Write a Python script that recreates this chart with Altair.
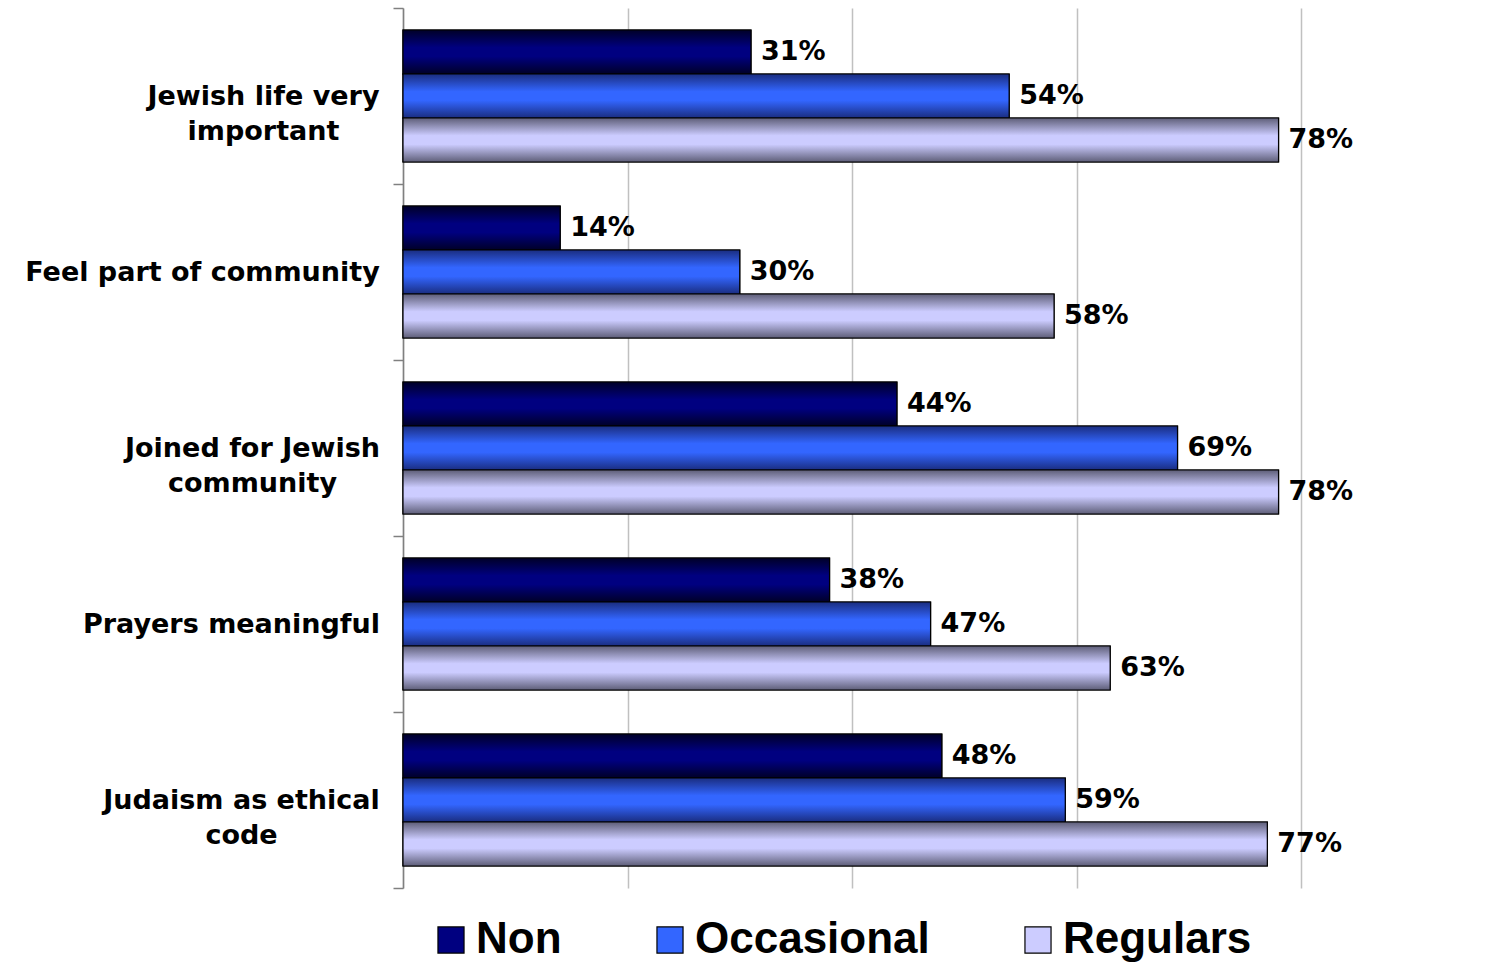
import altair as alt
import pandas as pd

categories = ["Jewish life very important", "Feel part of community",
              "Joined for Jewish community", "Prayers meaningful",
              "Judaism as ethical code"]
label_lines = [["Jewish life very", "important"], ["Feel part of community"],
               ["Joined for Jewish", "community"], ["Prayers meaningful"],
               ["Judaism as ethical", "code"]]
# distance from tick end to the centre of each (centred) label block
label_pads = [130, 191, 141, 162, 152]
series = ["Non", "Occasional", "Regulars"]
non_vals = [31, 14, 44, 38, 48]
occ_vals = [54, 30, 69, 47, 59]
reg_vals = [78, 58, 78, 63, 77]

rows = []
for i, c in enumerate(categories):
    for s, vals in zip(series, [non_vals, occ_vals, reg_vals]):
        rows.append({"category": c, "series": s, "value": vals[i], "label": f"{vals[i]}%"})
df = pd.DataFrame(rows)

colors = ["#000080", "#3366ff", "#ccccff"]
edges = ["#000028", "#1a2d80", "#5e5e78"]

label_expr = ""
for c, lines in zip(categories, label_lines):
    arr = "[" + ",".join(f"'{l}'" for l in lines) + "]"
    label_expr += f"datum.label == '{c}' ? {arr} : "
label_expr += "datum.label"

pad_cond = {"condition": [{"test": f"datum.value == '{c}'", "value": p}
                          for c, p in zip(categories, label_pads)],
            "value": 14}

FONT = "DejaVu Sans"

x_enc = alt.X("value:Q", scale=alt.Scale(domain=[0, 80]),
              axis=alt.Axis(values=[0, 20, 40, 60, 80], labels=False, ticks=False,
                            domain=False, grid=True, gridColor="#c0c0c0", gridWidth=1.5,
                            title=None))
y_enc = alt.Y("category:N", sort=categories,
              scale=alt.Scale(paddingInner=0, paddingOuter=0),
              axis=alt.Axis(title=None, labelExpr=label_expr, labelFont=FONT,
                            labelFontSize=27, labelFontWeight="bold", labelColor="black",
                            labelLineHeight=35, labelPadding=pad_cond, labelAlign="center",
                            tickSize=10,
                            tickBand="extent", tickColor="#808080", domainColor="#808080",
                            tickWidth=1.5, domainWidth=1.5, grid=False, labelLimit=400))
yoff = alt.YOffset("series:N", sort=series,
                   scale=alt.Scale(domain=series, paddingInner=0, paddingOuter=0.5))

base = alt.Chart(df).mark_bar(stroke="black", strokeWidth=1.2).encode(
    x=x_enc, y=y_enc, yOffset=yoff,
    color=alt.Color("series:N", sort=series,
                    scale=alt.Scale(domain=series, range=colors),
                    legend=alt.Legend(title=None, orient="none", direction="horizontal",
                                      legendX=26, legendY=910, symbolType="square",
                                      symbolSize=680, symbolStrokeColor="black",
                                      symbolStrokeWidth=1.2, labelFont="Liberation Sans",
                                      labelFontSize=44, labelFontWeight="bold",
                                      labelColor="black", labelOffset=3,
                                      columnPadding=86, symbolOpacity=1, labelLimit=500)),
)

layers = [base]
for s, c, e in zip(series, colors, edges):
    grad = alt.Gradient(gradient="linear", x1=0, y1=0, x2=0, y2=1,
                        stops=[alt.GradientStop(offset=0, color=e),
                               alt.GradientStop(offset=0.4, color=c),
                               alt.GradientStop(offset=0.6, color=c),
                               alt.GradientStop(offset=1, color=e)])
    layers.append(
        alt.Chart(df).transform_filter(alt.datum.series == s)
        .mark_bar(fill=grad, stroke="black", strokeWidth=1.2)
        .encode(x=x_enc, y=y_enc, yOffset=yoff)
    )

text = alt.Chart(df).mark_text(align="left", baseline="middle", dx=10, font=FONT,
                               fontSize=27, fontWeight="bold", color="black").encode(
    x=x_enc, y=y_enc, yOffset=yoff, text="label:N")
layers.append(text)

chart = alt.layer(*layers).properties(
    width=898, height=880, autosize="none", background="white",
    padding={"left": 403, "top": 8, "right": 210, "bottom": 76},
).configure_view(stroke="transparent", strokeWidth=0)

chart.save("out.html", embed_options={"renderer": "svg", "actions": False})
